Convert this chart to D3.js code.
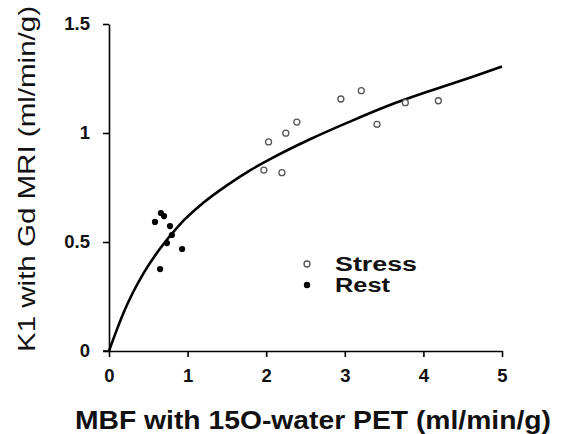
<!DOCTYPE html>
<html>
<head>
<meta charset="utf-8">
<script src="https://cdn.jsdelivr.net/npm/d3@7"></script>
<style>
  html, body { margin: 0; padding: 0; background: #fff; }
  svg { display: block; font-family: "Liberation Sans", Arial, sans-serif; }
</style>
</head>
<body>
<svg id="chart" width="569" height="434"></svg>
<script>
// ---- data ----
const stressX = [1.97, 2.03, 2.20, 2.25, 2.39, 2.95, 3.21, 3.41, 3.77, 4.19];
const stressY = [0.83, 0.959, 0.818, 0.999, 1.050, 1.156, 1.194, 1.040, 1.139, 1.148];
const restX = [0.585, 0.66, 0.70, 0.776, 0.80, 0.738, 0.93, 0.65];
const restY = [0.592, 0.633, 0.619, 0.573, 0.532, 0.495, 0.468, 0.376];
const fitX = [0, 0.1, 0.2, 0.3, 0.45, 0.65, 0.9, 1.2, 1.5, 1.8, 2.05, 2.55, 3.05, 3.55, 4.1, 4.6, 5];
const fitY = [0, 0.098, 0.188, 0.265, 0.363, 0.47, 0.58, 0.68, 0.76, 0.83, 0.88, 0.97, 1.05, 1.125, 1.195, 1.255, 1.305];
const xTicks = [0, 1, 2, 3, 4, 5];
const yTicks = [0, 0.5, 1, 1.5];
const yTickLabels = ["0", "0.5", "1", "1.5"];
const legendLabels = ["Stress", "Rest"];
const xTitle = "MBF with 15O-water PET (ml/min/g)";
const yTitle = "K1 with Gd MRI (ml/min/g)";

const svg = d3.select("#chart");
const x = d3.scaleLinear().domain([0, 5]).range([109, 502]);
const y = d3.scaleLinear().domain([0, 1.5]).range([351, 24]);

// axes
const xAxis = svg.append("g").attr("transform", `translate(0,${y(0)})`)
  .call(d3.axisBottom(x).tickValues(xTicks).tickFormat(d3.format("d")).tickSize(6).tickSizeOuter(0).tickPadding(12));
const yAxis = svg.append("g").attr("transform", `translate(${x(0)},0)`)
  .call(d3.axisLeft(y).tickValues(yTicks).tickFormat((d, i) => yTickLabels[i]).tickSize(6).tickSizeOuter(0).tickPadding(13));
[xAxis, yAxis].forEach(g => {
  g.selectAll("path.domain").attr("stroke", "#000").attr("stroke-width", 1.6);
  g.selectAll(".tick line").attr("stroke", "#000").attr("stroke-width", 1.6);
  g.selectAll(".tick text").attr("fill", "#111").attr("font-size", 18.5).attr("font-weight", "bold")
    .attr("font-family", "'Liberation Sans', Arial, sans-serif");
});
svg.append("line").attr("x1", x(0) - 6).attr("x2", x(0)).attr("y1", y(0)).attr("y2", y(0))
  .attr("stroke", "#000").attr("stroke-width", 1.6);

// fitted curve
const fit = fitX.map((d, i) => [d, fitY[i]]);
svg.append("path").datum(fit)
  .attr("fill", "none").attr("stroke", "#000").attr("stroke-width", 2.6)
  .attr("stroke-linejoin", "round")
  .attr("d", d3.line().x(d => x(d[0])).y(d => y(d[1])).curve(d3.curveMonotoneX));

// stress points (open)
svg.append("g").selectAll("circle").data(stressX.map((d, i) => [d, stressY[i]])).join("circle")
  .attr("cx", d => x(d[0])).attr("cy", d => y(d[1])).attr("r", 3)
  .attr("fill", "#fff").attr("stroke", "#555").attr("stroke-width", 1.3);
// rest points (filled)
svg.append("g").selectAll("circle").data(restX.map((d, i) => [d, restY[i]])).join("circle")
  .attr("cx", d => x(d[0])).attr("cy", d => y(d[1])).attr("r", 3.1)
  .attr("fill", "#000");

// legend
const leg = svg.append("g");
leg.append("circle").attr("cx", 307).attr("cy", 264).attr("r", 3)
  .attr("fill", "#fff").attr("stroke", "#555").attr("stroke-width", 1.3);
leg.append("circle").attr("cx", 307).attr("cy", 285).attr("r", 3.2).attr("fill", "#000");
const legLen = [82, 55];
leg.selectAll("text").data(legendLabels).join("text")
  .attr("x", 335).attr("y", (d, i) => 271 + i * 21)
  .attr("font-size", 19.5).attr("font-weight", "bold").attr("fill", "#111")
  .attr("textLength", (d, i) => legLen[i]).attr("lengthAdjust", "spacingAndGlyphs")
  .text(d => d);

// axis titles
svg.append("text").attr("x", 313).attr("y", 429).attr("text-anchor", "middle")
  .attr("font-size", 25).attr("font-weight", "bold").attr("fill", "#111")
  .attr("textLength", 476).attr("lengthAdjust", "spacingAndGlyphs")
  .text(xTitle);
svg.append("text").attr("transform", "translate(35,179) rotate(-90)").attr("text-anchor", "middle")
  .attr("font-size", 24).attr("fill", "#111")
  .attr("textLength", 346).attr("lengthAdjust", "spacingAndGlyphs")
  .text(yTitle);
</script>
</body>
</html>
